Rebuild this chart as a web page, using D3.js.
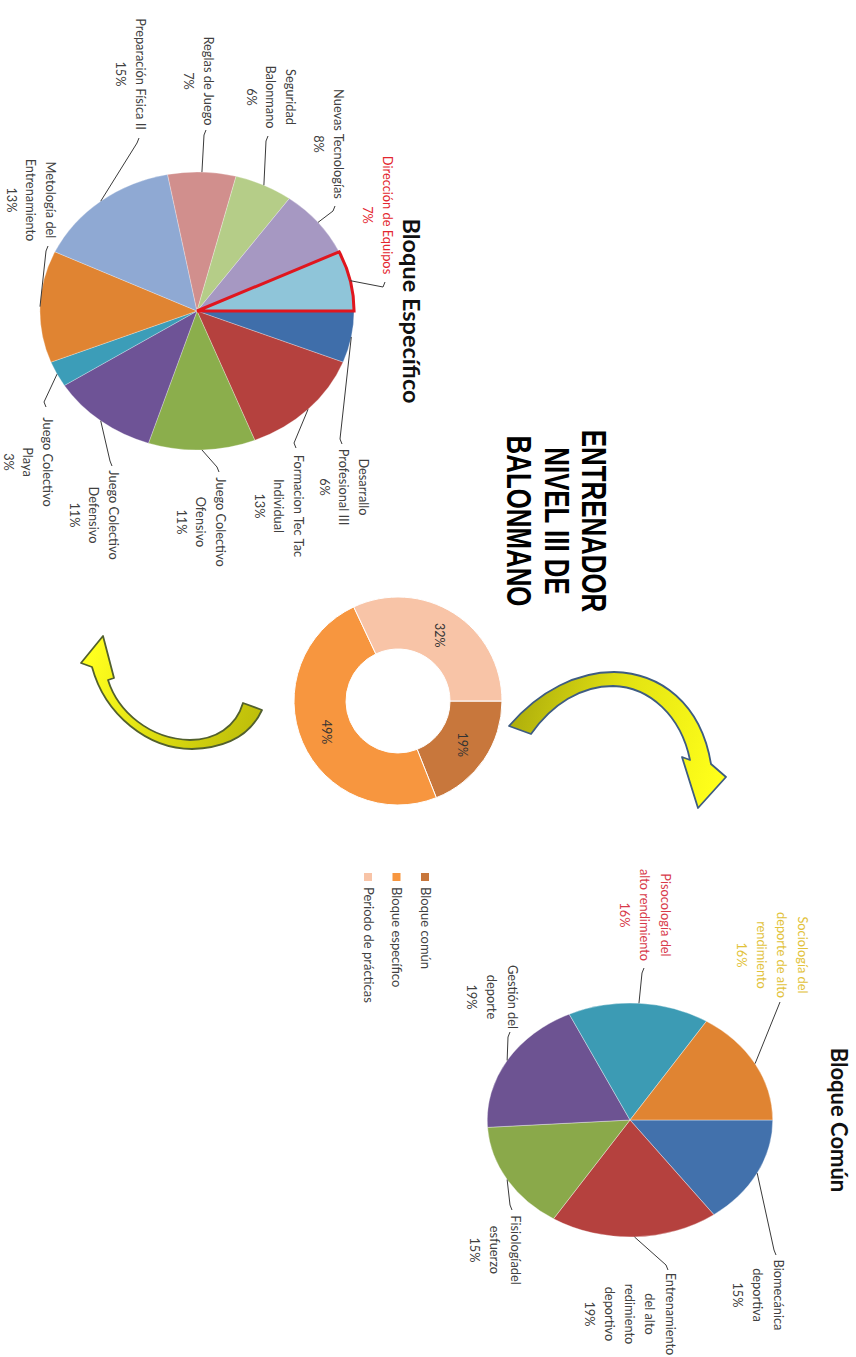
<!DOCTYPE html>
<html>
<head>
<meta charset="utf-8">
<script src="https://cdn.jsdelivr.net/npm/d3@7/dist/d3.min.js"></script>
<style>
  html, body { margin: 0; padding: 0; background: #ffffff; }
  svg { display: block; }
</style>
</head>
<body>
<svg id="chart" width="856" height="1357"></svg>
<script>
// ---- Data ----
const titleLines = ["ENTRENADOR", "NIVEL III DE", "BALONMANO"];

// Bloque Específico
const specificTitle = "Bloque Específico";
const specificCategories = [
  "Desarrallo\nProfesional III", "Formacion Tec Tac\nIndividual", "Juego Colectivo\nOfensivo",
  "Juego Colectivo\nDefensivo", "Juego Colectivo\nPlaya", "Metología del\nEntrenamiento",
  "Preparación Física II", "Reglas de Juego", "Seguridad\nBalonmano",
  "Nuevas Tecnologías", "Dirección de Equipos"
];
const specificValues = [6, 13, 11, 11, 3, 13, 15, 7, 6, 8, 7];

// Bloque Común
const commonTitle = "Bloque Común";
const commonCategories = [
  "Biomecánica\ndeportiva", "Entrenamiento\ndel alto\nredimiento\ndeportivo",
  "Fisiologíadel\nesfuerzo", "Gestión del\ndeporte",
  "Pisocología del\nalto rendimiento", "Sociología del\ndeporte de alto\nrendimiento"
];
const commonValues = [15, 19, 15, 19, 16, 16];

// Overall split
const blockCategories = ["Bloque común", "Bloque específico", "Periodo de prácticas"];
const blockValues = [19, 49, 32];

// ---- Styles ----
const specificColors = ["#3F6EAA", "#B5413E", "#8BAE4C", "#6E5396", "#3C9DB8", "#E08432",
                        "#8FA9D3", "#D18F8D", "#B5CD88", "#A698C2", "#8FC5D9"];
const commonColors = ["#4271AC", "#B5413E", "#8AA94A", "#6D5392", "#3C9BB4", "#E08432"];
const blockColors = ["#C8773C", "#F7963F", "#F8C4A7"];
const specificTextColors = specificCategories.map((d, i) => i === 10 ? "#E3262E" : "#404040");
const commonTextColors = ["#404040", "#404040", "#404040", "#404040", "#D83A4A", "#E2C23A"];

// Label layout (drawing frame): [centerX, firstLineY, anchorX, anchorY, stubDir]
const specificLabelPos = [
  [487, 493, 444, 514, -1], [506, 558, 448, 560, -1], [522, 636, 472, 637, -1],
  [515, 743, 466, 744, -1], [462, 809, 407, 810, -1], [200, 806, 246, 808, 1],
  [74, 716, 138, 717, 1],   [81, 648, 130, 650, 1],   [97, 566, 136, 588, 1],
  [144, 518, 206, 521, 1],  [215, 469, 282, 471, 1]
];
const commonLabelPos = [
  [1295, 78, 1255, 80, -1], [1314, 186, 1270, 188, -1], [1250, 341, 1210, 344, -1],
  [997, 344, 1032, 346, 1], [915, 191, 968, 212, 1],    [955, 54, 1002, 76, 1]
];

const FONT = "Lato, 'Open Sans', sans-serif";
const svg = d3.select("#chart");

// The whole figure is laid out in a 1357 x 856 frame, turned a quarter clockwise.
const frame = svg.append("g").attr("transform", "translate(856,0) rotate(90)");

function drawPie(opts) {
  const { cx, cy, r, k, values, colors, labels, pos, textColors, lineH, stroke } = opts;
  const arcs = d3.pie().sort(null).value(d => d)(values);
  const arc = d3.arc().innerRadius(0).outerRadius(r);
  const g = frame.append("g").attr("transform", `translate(${cx},${cy}) scale(1,${k})`);
  g.selectAll("path.slice").data(arcs).join("path")
    .attr("class", "slice")
    .attr("d", arc)
    .attr("fill", (d, i) => colors[i])
    .attr("stroke", stroke || "none")
    .attr("stroke-width", 0.8)
    .attr("vector-effect", "non-scaling-stroke");

  // leader lines
  arcs.forEach((d, i) => {
    const a = (d.startAngle + d.endAngle) / 2;
    const ex = cx + r * Math.sin(a), ey = cy - r * k * Math.cos(a);
    const p = pos[i];
    const pts = [[ex, ey], [p[2] + p[4] * 5, p[3] + 2], [p[2], p[3]]];
    frame.append("path")
      .attr("d", d3.line()(pts))
      .attr("fill", "none").attr("stroke", "#3a3a3a").attr("stroke-width", 1);
  });

  // labels
  labels.forEach((lab, i) => {
    const p = pos[i];
    const lines = lab.split("\n").concat([values[i] + "%"]);
    const t = frame.append("text")
      .attr("text-anchor", "middle")
      .attr("font-family", FONT).attr("font-size", 12.8)
      .attr("fill", textColors[i]);
    lines.forEach((ln, j) => {
      t.append("tspan").attr("x", p[0]).attr("y", p[1] + j * lineH + 4.5).text(ln);
    });
  });
  return { arcs, arc, g };
}

// ---- Bloque Específico pie ----
const spec = drawPie({
  cx: 311, cy: 659, r: 139, k: 1.13, values: specificValues, colors: specificColors,
  labels: specificCategories, pos: specificLabelPos, textColors: specificTextColors, lineH: 19.3,
  stroke: "rgba(255,255,255,0.35)"
});
// highlighted slice outline
spec.g.append("path")
  .attr("d", spec.arc(spec.arcs[10]))
  .attr("fill", "none").attr("stroke", "#E0161E").attr("stroke-width", 3)
  .attr("stroke-linejoin", "miter")
  .attr("vector-effect", "non-scaling-stroke");

frame.append("text")
  .attr("x", 311).attr("y", 453)
  .attr("text-anchor", "middle")
  .attr("font-family", FONT).attr("font-weight", 700).attr("font-size", 23.5)
  .attr("fill", "#111").text(specificTitle);

// ---- Bloque Común pie ----
drawPie({
  cx: 1120, cy: 226, r: 117, k: 1.22, values: commonValues, colors: commonColors,
  labels: commonCategories, pos: commonLabelPos, textColors: commonTextColors, lineH: 20.2,
  stroke: "rgba(255,255,255,0.45)"
});
frame.append("text")
  .attr("x", 1120).attr("y", 25)
  .attr("text-anchor", "middle")
  .attr("font-family", FONT).attr("font-weight", 700).attr("font-size", 22)
  .attr("fill", "#111").text(commonTitle);

// ---- Main title ----
const titleG = frame.append("g").attr("transform", "translate(521,0)");
const titleBase = [274, 311.5, 349];
titleLines.forEach((ln, i) => {
  titleG.append("text")
    .attr("transform", `translate(0,${titleBase[i]}) scale(0.76,1.05)`)
    .attr("text-anchor", "middle")
    .attr("font-family", "'Liberation Sans', Arial, sans-serif")
    .attr("font-weight", 700).attr("font-size", 34)
    .attr("fill", "#000").text(ln);
});

// ---- Donut ----
const donutArcs = d3.pie().sort(null).value(d => d)(blockValues);
const donutArc = d3.arc().innerRadius(52).outerRadius(104);
const labelArc = d3.arc().innerRadius(78).outerRadius(78);
const dg = frame.append("g").attr("transform", "translate(701,458)");
dg.selectAll("path").data(donutArcs).join("path")
  .attr("d", donutArc)
  .attr("fill", (d, i) => blockColors[i])
  .attr("stroke", "#fff").attr("stroke-width", 1);
dg.selectAll("text").data(donutArcs).join("text")
  .attr("transform", d => `translate(${labelArc.centroid(d)})`)
  .attr("text-anchor", "middle").attr("dy", "0.35em")
  .attr("font-family", FONT).attr("font-size", 12.5).attr("fill", "#333")
  .text(d => d.data + "%");

// ---- Legend ----
const legendY = d3.scalePoint().domain(blockCategories).range([431, 488]);
const lg = frame.append("g");
blockCategories.forEach((c, i) => {
  lg.append("rect")
    .attr("x", 873).attr("y", legendY(c) - 4).attr("width", 8).attr("height", 8)
    .attr("fill", blockColors[i]);
  lg.append("text")
    .attr("x", 887).attr("y", legendY(c) + 4.5)
    .attr("font-family", FONT).attr("font-size", 13).attr("fill", "#404040")
    .text(c);
});

// ---- Curved arrows (page coordinates) ----
const defs = svg.append("defs");
const g1 = defs.append("linearGradient").attr("id", "arrowGradA")
  .attr("gradientUnits", "userSpaceOnUse").attr("x1", 510).attr("y1", 730).attr("x2", 715).attr("y2", 790);
g1.append("stop").attr("offset", 0).attr("stop-color", "#AFAF0C");
g1.append("stop").attr("offset", 0.45).attr("stop-color", "#E2E212");
g1.append("stop").attr("offset", 1).attr("stop-color", "#FFFF1A");
const g2 = defs.append("linearGradient").attr("id", "arrowGradB")
  .attr("gradientUnits", "userSpaceOnUse").attr("x1", 262).attr("y1", 720).attr("x2", 95).attr("y2", 650);
g2.append("stop").attr("offset", 0).attr("stop-color", "#BDBD0A");
g2.append("stop").attr("offset", 0.5).attr("stop-color", "#DCDC10");
g2.append("stop").attr("offset", 1).attr("stop-color", "#FFFF1E");

svg.append("path")
  .attr("d", "M509,726 C540,690 578,672 614,672 C660,673 701,703 711,764 L726,777 L698,808 L682,757 L690,760 " +
             "C681,716 650,687 613,686 C581,686 552,704 531,734 Z")
  .attr("fill", "url(#arrowGradA)").attr("stroke", "#3E5C82").attr("stroke-width", 1.8)
  .attr("stroke-linejoin", "round");

svg.append("path")
  .attr("d", "M262,710 C250,736 225,748 192,749 C148,749 105,715 92,667 L81,663 L103,636 L114,678 L108,680 " +
             "C118,712 150,739 190,740 C215,740 236,727 243,703 Z")
  .attr("fill", "url(#arrowGradB)").attr("stroke", "#52602E").attr("stroke-width", 1.8)
  .attr("stroke-linejoin", "round");
</script>
</body>
</html>
